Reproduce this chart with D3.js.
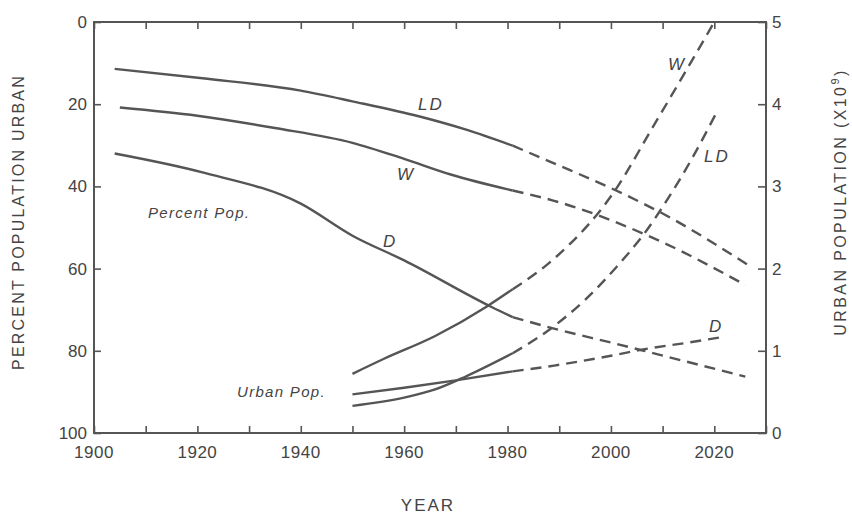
<!DOCTYPE html>
<html>
<head>
<meta charset="utf-8">
<script src="https://cdn.jsdelivr.net/npm/d3@7"></script>
<style>
body { margin: 0; background: #fff; }
text { font-family: "Liberation Sans", Arial, sans-serif; fill: #444; }
.lbl { font-style: italic; }
</style>
</head>
<body>
<div id="chart"></div>
<script>
// percent urban (left axis, 0 at top)
var ldPctYears = [1904, 1921, 1940, 1950, 1963, 1972, 1981, 1989, 2001, 2010, 2027];
var ldPctValues = [11.4, 13.7, 16.7, 19.3, 23.0, 26.2, 30.1, 34.4, 41, 46.6, 59.5];
var wPctYears = [1905, 1920, 1935, 1950, 1960, 1969, 1981, 1989, 2010, 2026];
var wPctValues = [20.8, 22.8, 25.8, 29.4, 33.3, 37.1, 41, 43.5, 53.6, 64];
var dPctYears = [1904, 1921, 1940, 1950, 1960, 1977, 1981, 1989, 2001, 2007, 2026];
var dPctValues = [32, 36.6, 44.2, 52.0, 58.0, 69.4, 71.8, 74.6, 78.3, 80.2, 86.3];

// urban population, billions (right axis)
var wPopYears = [1950, 1956, 1966, 1976, 1981, 1989, 2001, 2008, 2014, 2020];
var wPopValues = [0.72, 0.9, 1.18, 1.54, 1.75, 2.12, 2.97, 3.71, 4.35, 5.0];
var ldPopYears = [1950, 1960, 1966, 1972, 1981, 1989, 1995, 2001.5, 2006.5, 2010, 2015.6, 2020.6];
var ldPopValues = [0.33, 0.43, 0.53, 0.69, 0.97, 1.3, 1.62, 2.05, 2.43, 2.75, 3.33, 3.92];
var dPopYears = [1950, 1960, 1970, 1981, 1989, 2000, 2006.5, 2015, 2021.8];
var dPopValues = [0.47, 0.55, 0.64, 0.75, 0.82, 0.94, 1.02, 1.1, 1.17];

var splitYear = 1981;

var xTicks = [1900, 1920, 1940, 1960, 1980, 2000, 2020];
var leftTicks = [0, 20, 40, 60, 80, 100];
var rightTicks = [0, 1, 2, 3, 4, 5];

var width = 852, height = 516;
var plotL = 94, plotR = 766, plotT = 22, plotB = 433;

var svg = d3.select("#chart").append("svg")
    .attr("width", width)
    .attr("height", height);

var x = d3.scaleLinear().domain([1900, 2030]).range([plotL, plotR]);
var yPct = d3.scaleLinear().domain([0, 100]).range([plotT, plotB]);
var yPop = d3.scaleLinear().domain([0, 5]).range([plotB, plotT]);

var ink = "#555";

// frame
svg.append("rect")
    .attr("x", plotL).attr("y", plotT)
    .attr("width", plotR - plotL).attr("height", plotB - plotT)
    .attr("fill", "none").attr("stroke", ink).attr("stroke-width", 2);

// axes with inward ticks
var minor = d3.range(1900, 2031, 10);
svg.append("g").attr("transform", "translate(0," + plotB + ")")
    .call(d3.axisBottom(x).tickValues(minor).tickSize(-7).tickFormat(""));
svg.append("g").attr("transform", "translate(0," + plotT + ")")
    .call(d3.axisTop(x).tickValues(minor).tickSize(-7).tickFormat(""));
svg.append("g").attr("transform", "translate(" + plotL + ",0)")
    .call(d3.axisLeft(yPct).tickValues(leftTicks).tickSize(-7).tickFormat(""));
svg.append("g").attr("transform", "translate(" + plotR + ",0)")
    .call(d3.axisRight(yPop).tickValues(rightTicks).tickSize(-8).tickFormat(""));
svg.selectAll(".domain").remove();
svg.selectAll(".tick line").attr("stroke", ink).attr("stroke-width", 1.6);

// tick labels
svg.selectAll(".xlab")
    .data(xTicks)
    .enter()
    .append("text")
    .attr("class", "xlab")
    .attr("x", function (d) { return x(d); })
    .attr("y", 458)
    .attr("text-anchor", "middle")
    .attr("font-size", 17)
    .attr("letter-spacing", 0.5)
    .text(function (d) { return d; });
svg.selectAll(".ylab")
    .data(leftTicks)
    .enter()
    .append("text")
    .attr("class", "ylab")
    .attr("x", 87)
    .attr("y", function (d) { return yPct(d) + 6; })
    .attr("text-anchor", "end")
    .attr("font-size", 17)
    .text(function (d) { return d; });
svg.selectAll(".rlab")
    .data(rightTicks)
    .enter()
    .append("text")
    .attr("class", "rlab")
    .attr("x", 772)
    .attr("y", function (d) { return yPop(d) + 6; })
    .attr("font-size", 17)
    .text(function (d) { return d; });

// axis titles
svg.append("text")
    .attr("transform", "translate(24,222) rotate(-90)")
    .attr("text-anchor", "middle")
    .attr("font-size", 16)
    .attr("letter-spacing", 2.2)
    .text("PERCENT POPULATION URBAN");
var rt = svg.append("text")
    .attr("transform", "translate(846,202) rotate(-90)")
    .attr("text-anchor", "middle")
    .attr("font-size", 16)
    .attr("letter-spacing", 2.4);
rt.append("tspan").text("URBAN POPULATION (X10");
rt.append("tspan").attr("font-size", 11).attr("dy", -7).text("9");
rt.append("tspan").attr("dy", 7).text(")");
svg.append("text")
    .attr("x", 428).attr("y", 511)
    .attr("text-anchor", "middle")
    .attr("font-size", 17)
    .attr("letter-spacing", 2)
    .text("YEAR");

// curves: solid up to splitYear, dashed after
function drawSeries(years, values, yScale) {
    var pts = years.map(function (yr, i) { return [yr, values[i]]; });
    var line = d3.line()
        .x(function (d) { return x(d[0]); })
        .y(function (d) { return yScale(d[1]); })
        .curve(d3.curveMonotoneX);
    var solid = pts.filter(function (d) { return d[0] <= splitYear; });
    var dashed = pts.filter(function (d) { return d[0] >= splitYear; });
    svg.append("path").datum(solid).attr("d", line)
        .attr("fill", "none").attr("stroke", ink).attr("stroke-width", 2.4);
    svg.append("path").datum(dashed).attr("d", line)
        .attr("fill", "none").attr("stroke", ink).attr("stroke-width", 2.4)
        .attr("stroke-dasharray", "11,7");
}
drawSeries(ldPctYears, ldPctValues, yPct);
drawSeries(wPctYears, wPctValues, yPct);
drawSeries(dPctYears, dPctValues, yPct);
drawSeries(wPopYears, wPopValues, yPop);
drawSeries(ldPopYears, ldPopValues, yPop);
drawSeries(dPopYears, dPopValues, yPop);

// curve labels
var labels = [
    { t: "LD", x: 418, y: 110 },
    { t: "W", x: 397, y: 180 },
    { t: "D", x: 383, y: 247 },
    { t: "W", x: 668, y: 70 },
    { t: "LD", x: 704, y: 162 },
    { t: "D", x: 709, y: 332 }
];
svg.selectAll(".cl")
    .data(labels)
    .enter()
    .append("text")
    .attr("class", "lbl cl")
    .attr("x", function (d) { return d.x; })
    .attr("y", function (d) { return d.y; })
    .attr("font-size", 17)
    .attr("letter-spacing", 2)
    .text(function (d) { return d.t; });
svg.append("text").attr("class", "lbl")
    .attr("x", 148).attr("y", 218)
    .attr("font-size", 15).attr("letter-spacing", 1.3)
    .text("Percent Pop.");
svg.append("text").attr("class", "lbl")
    .attr("x", 237).attr("y", 397)
    .attr("font-size", 15).attr("letter-spacing", 1.3)
    .text("Urban Pop.");
</script>
</body>
</html>
